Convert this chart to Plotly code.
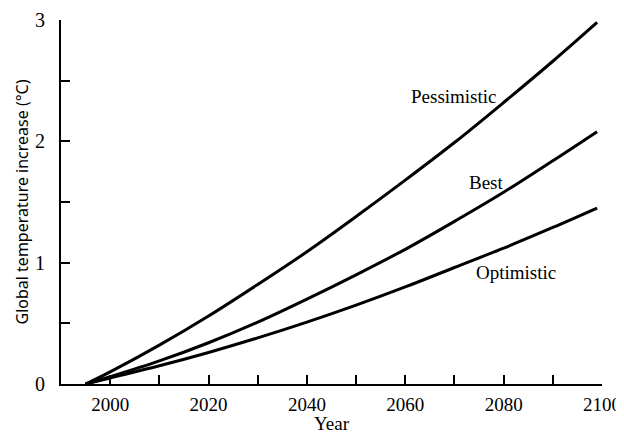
import plotly.graph_objects as go

# years
anos = [1995, 2000, 2010, 2020, 2030, 2040, 2050, 2060, 2070, 2080, 2090, 2099]

# temperature increase (°C) for each scenario
pessimista = [0, 0.10, 0.32, 0.56, 0.82, 1.09, 1.38, 1.68, 1.99, 2.32, 2.66, 2.98]
melhor = [0, 0.06, 0.19, 0.34, 0.51, 0.70, 0.90, 1.11, 1.34, 1.58, 1.84, 2.08]
otimista = [0, 0.05, 0.15, 0.26, 0.38, 0.51, 0.65, 0.80, 0.96, 1.12, 1.29, 1.45]

# ticks
x_ticks = list(range(2000, 2101, 10))
x_text = ['2000', '', '2020', '', '2040', '', '2060', '', '2080', '', '2100']
y_ticks = [0, 0.5, 1, 1.5, 2, 2.5, 3]
y_text = ['0', '', '1', '', '2', '', '3']

serif = 'Liberation Serif'

fig = go.Figure()

for nome, valores in [('Pessimistic', pessimista), ('Best', melhor), ('Optimistic', otimista)]:
    fig.add_trace(go.Scatter(x=anos, y=valores, mode='lines', name=nome, cliponaxis=False,
                             line=dict(color='black', width=3, shape='spline', smoothing=1)))

# labels next to the curves
rotulos = [('Pessimistic', 2070.0, 2.37), ('Best', 2076.6, 1.66), ('Optimistic', 2082.5, 0.915)]
for texto, x, y in rotulos:
    fig.add_annotation(x=x, y=y, text=texto, showarrow=False,
                       font=dict(family=serif, size=19, color='black'))

# the page has an 8px body margin, so the figure is a bit smaller than the window
fig.update_layout(
    width=616, height=426,
    margin=dict(l=53, r=22, t=12, b=50),
    paper_bgcolor='white', plot_bgcolor='white',
    showlegend=False,
    xaxis=dict(range=[1990, 2100], tickvals=x_ticks, ticktext=x_text,
               ticks='inside', ticklen=9, tickwidth=2, tickcolor='black',
               showline=True, linecolor='black', linewidth=2,
               showgrid=False, zeroline=False, automargin=False,
               ticklabelstandoff=2,
               tickfont=dict(family=serif, size=19, color='black'),
               title=dict(text='Year', font=dict(family=serif, size=19, color='black'), standoff=2)),
    yaxis=dict(range=[0, 3], tickvals=y_ticks, ticktext=y_text,
               ticks='inside', ticklen=9, tickwidth=2, tickcolor='black',
               showline=True, linecolor='black', linewidth=2,
               showgrid=False, zeroline=False, automargin=False,
               ticklabelstandoff=10,
               tickfont=dict(family=serif, size=20, color='black'),
               title=dict(text='Global temperature increase (°C)',
                          font=dict(family='Noto Sans', size=16, color='black'), standoff=2)),
)

fig.write_html("out.html")
